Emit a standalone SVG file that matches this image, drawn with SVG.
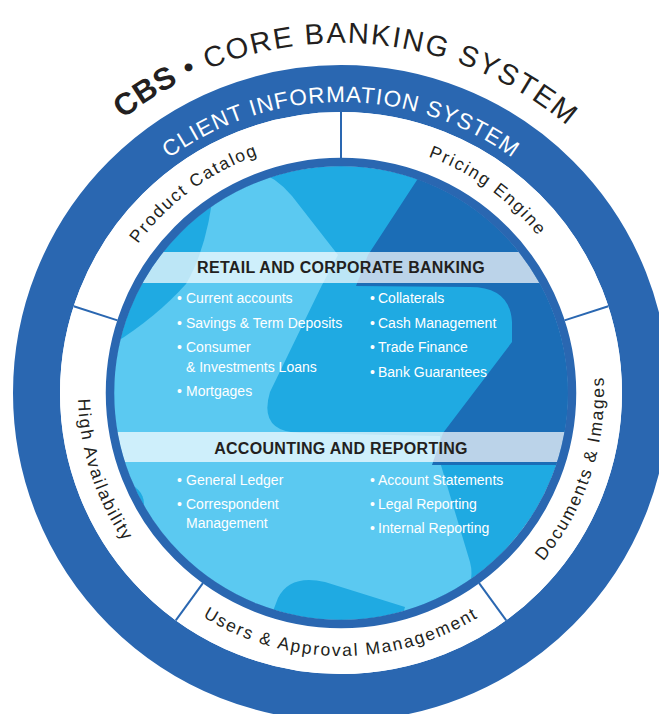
<svg xmlns="http://www.w3.org/2000/svg" width="659" height="714" viewBox="0 0 659 714">
<defs>
<style>
.ringlbl{font-family:"Liberation Sans",Arial,sans-serif;font-size:17.5px;fill:#231F20;letter-spacing:1.8px}
.item{font-family:"Liberation Sans",Arial,sans-serif;font-size:14px;fill:#ffffff}
.hdr{font-family:"Liberation Sans",Arial,sans-serif;font-size:16px;font-weight:bold;fill:#231F20;letter-spacing:0.3px}
.band{fill:#ffffff;fill-opacity:0.7}
.div{stroke:#2A67B1;stroke-width:2}
.light{fill:#5BC9F1}
.mid{fill:#1FAAE2}
.dark{fill:#1B6DB6}
</style>
<clipPath id="disc"><circle cx="341" cy="393" r="227"/></clipPath>
<path id="pTitle" d="M -3.69 332.22 A 350 350 0 0 1 687.59 344.29"/>
<path id="pClient" d="M 54.42 342.47 A 291 291 0 0 1 627.58 342.47"/>
<path id="pProduct" d="M 90.27 370.04 A 252 252 0 0 1 393.39 146.51"/>
<path id="pPricing" d="M 280.04 148.48 A 252 252 0 0 1 592.39 375.42"/>
<path id="pDocs" d="M 417.89 644.51 A 263 263 0 0 0 551.04 234.72"/>
<path id="pUsers" d="M 113.23 524.5 A 263 263 0 0 0 568.77 524.5"/>
<path id="pHigh" d="M 145.55 217.02 A 263 263 0 0 0 286.32 650.25"/>
</defs>

<g id="outer-ring">
<circle cx="341" cy="393" r="304.5" fill="none" stroke="#2A67B1" stroke-width="47"/>
<circle cx="341" cy="393" r="258" fill="none" stroke="#ffffff" stroke-width="46"/>
<text font-family="'Liberation Sans',Arial,sans-serif" font-size="22.5" fill="#ffffff" letter-spacing="1.1"><textPath href="#pClient" startOffset="50%" text-anchor="middle">CLIENT INFORMATION SYSTEM</textPath></text>
</g>

<g id="title">
<text font-family="'Liberation Sans',Arial,sans-serif" font-size="29" fill="#231F20" letter-spacing="1.8"><textPath href="#pTitle" startOffset="50%" text-anchor="middle"><tspan font-weight="bold" font-size="31" letter-spacing="0.5">CBS</tspan> • CORE BANKING SYSTEM</textPath></text>
</g>

<g id="core">
<g clip-path="url(#disc)">
<rect x="100" y="150" width="480" height="500" class="mid"/>
<path class="light" d="M 100 140 L 212 168 Q 262 160 292 196 L 338 255 L 322 285 L 270 392 Q 258 432 300 433 L 440 436 L 440 462 L 470 562 Q 476 585 458 598 L 432 625 L 400 625 L 405 607 L 325 582 Q 290 574 278 598 L 262 640 L 100 640 Z"/>
<path class="mid" d="M 100 150 L 216 160 Q 212 240 186 284 Q 152 322 100 352 Z"/>
<circle cx="124" cy="504" r="20" class="mid"/>
<path class="dark" d="M 430 150 L 417 180 L 368 255 L 356 286 L 470 287 Q 510 287 512 322 L 512 342 L 443 433 L 432 465 L 600 465 L 600 150 Z"/>
<rect x="100" y="252" width="480" height="31" class="band"/>
<rect x="100" y="432" width="480" height="30" class="band"/>
</g>
<circle cx="341" cy="393" r="231" fill="none" stroke="#2A67B1" stroke-width="8.5"/>
</g>

<g id="retail-banking">
<text class="hdr" x="341" y="273" text-anchor="middle">RETAIL AND CORPORATE BANKING</text>
<text class="item" y="303"><tspan x="177">•</tspan><tspan x="186">Current accounts</tspan></text>
<text class="item" y="328"><tspan x="177">•</tspan><tspan x="186">Savings &amp; Term Deposits</tspan></text>
<text class="item" y="352"><tspan x="177">•</tspan><tspan x="186">Consumer</tspan></text>
<text class="item" x="186" y="372">&amp; Investments Loans</text>
<text class="item" y="396"><tspan x="177">•</tspan><tspan x="186">Mortgages</tspan></text>
<text class="item" y="303"><tspan x="370">•</tspan><tspan x="378">Collaterals</tspan></text>
<text class="item" y="328"><tspan x="370">•</tspan><tspan x="378">Cash Management</tspan></text>
<text class="item" y="352"><tspan x="370">•</tspan><tspan x="378">Trade Finance</tspan></text>
<text class="item" y="377"><tspan x="370">•</tspan><tspan x="378">Bank Guarantees</tspan></text>
</g>

<g id="accounting-reporting">
<text class="hdr" x="341" y="454" text-anchor="middle">ACCOUNTING AND REPORTING</text>
<text class="item" y="485"><tspan x="177">•</tspan><tspan x="186">General Ledger</tspan></text>
<text class="item" y="509"><tspan x="177">•</tspan><tspan x="186">Correspondent</tspan></text>
<text class="item" x="186" y="528">Management</text>
<text class="item" y="485"><tspan x="370">•</tspan><tspan x="378">Account Statements</tspan></text>
<text class="item" y="509"><tspan x="370">•</tspan><tspan x="378">Legal Reporting</tspan></text>
<text class="item" y="533"><tspan x="370">•</tspan><tspan x="378">Internal Reporting</tspan></text>
</g>

<g id="product-catalog"><text class="ringlbl"><textPath href="#pProduct" startOffset="50%" text-anchor="middle">Product Catalog</textPath></text></g>
<g id="pricing-engine"><text class="ringlbl"><textPath href="#pPricing" startOffset="50%" text-anchor="middle">Pricing Engine</textPath></text></g>
<g id="documents-images"><text class="ringlbl" letter-spacing="1"><textPath href="#pDocs" startOffset="50%" text-anchor="middle">Documents &amp; Images</textPath></text></g>
<g id="users-approval"><text class="ringlbl"><textPath href="#pUsers" startOffset="50%" text-anchor="middle">Users &amp; Approval Management</textPath></text></g>
<g id="high-availability"><text class="ringlbl"><textPath href="#pHigh" startOffset="50%" text-anchor="middle">High Availability</textPath></text></g>

<g id="connectors">
<line class="div" x1="341" y1="158" x2="341" y2="112"/>
<line class="div" x1="564.5" y1="320.4" x2="608.3" y2="306.2"/>
<line class="div" x1="479.1" y1="583.1" x2="506.2" y2="620.3"/>
<line class="div" x1="202.9" y1="583.1" x2="175.8" y2="620.3"/>
<line class="div" x1="117.5" y1="320.4" x2="73.7" y2="306.2"/>
</g>
</svg>
